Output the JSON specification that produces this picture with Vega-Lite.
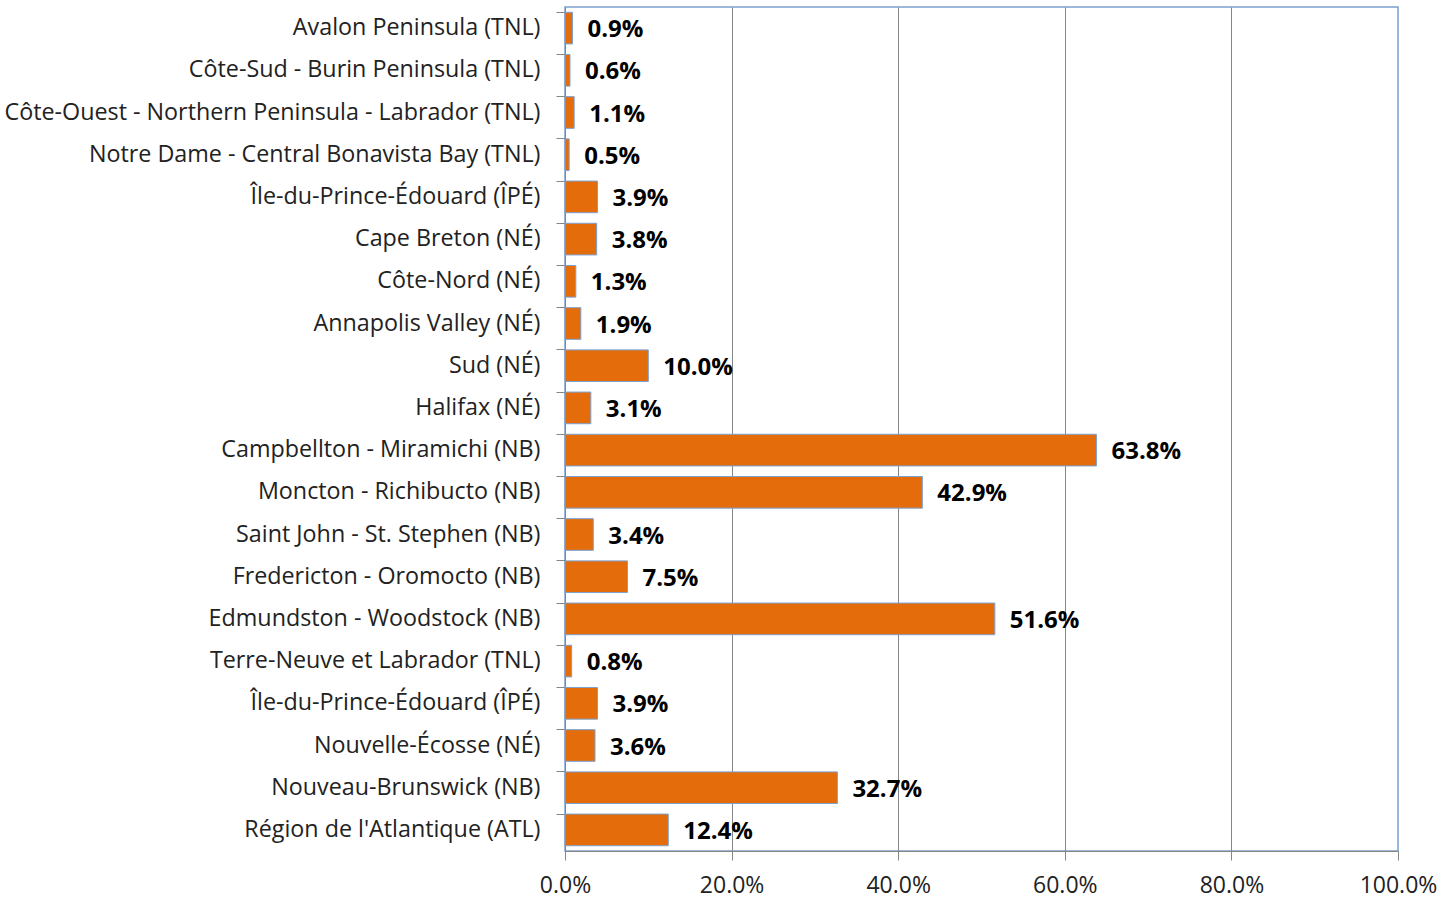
{
  "$schema": "https://vega.github.io/schema/vega-lite/v6.json",
  "width": 833,
  "height": 844,
  "autosize": {"type": "none"},
  "padding": {"left": 565, "top": 7, "right": 42, "bottom": 47},
  "background": "white",
  "config": {
    "view": {"stroke": "#7BA1D0", "strokeWidth": 1.5},
    "font": "Open Sans"
  },
  "data": {
    "values": [
      {"region": "Avalon Peninsula (TNL)", "value": 0.009},
      {"region": "Côte-Sud - Burin Peninsula (TNL)", "value": 0.006},
      {"region": "Côte-Ouest - Northern Peninsula - Labrador (TNL)", "value": 0.011},
      {"region": "Notre Dame - Central Bonavista Bay (TNL)", "value": 0.005},
      {"region": "Île-du-Prince-Édouard (ÎPÉ)", "value": 0.039},
      {"region": "Cape Breton (NÉ)", "value": 0.038},
      {"region": "Côte-Nord (NÉ)", "value": 0.013},
      {"region": "Annapolis Valley (NÉ)", "value": 0.019},
      {"region": "Sud (NÉ)", "value": 0.100},
      {"region": "Halifax (NÉ)", "value": 0.031},
      {"region": "Campbellton - Miramichi (NB)", "value": 0.638},
      {"region": "Moncton - Richibucto (NB)", "value": 0.429},
      {"region": "Saint John - St. Stephen (NB)", "value": 0.034},
      {"region": "Fredericton - Oromocto (NB)", "value": 0.075},
      {"region": "Edmundston - Woodstock (NB)", "value": 0.516},
      {"region": "Terre-Neuve et Labrador (TNL)", "value": 0.008},
      {"region": "Île-du-Prince-Édouard (ÎPÉ)#2", "value": 0.039},
      {"region": "Nouvelle-Écosse (NÉ)", "value": 0.036},
      {"region": "Nouveau-Brunswick (NB)", "value": 0.327},
      {"region": "Région de l'Atlantique (ATL)", "value": 0.124}
    ]
  },
  "encoding": {
    "y": {
      "field": "region",
      "type": "nominal",
      "sort": null,
      "title": null,
      "scale": {"paddingInner": 0.25, "paddingOuter": 0.125},
      "axis": {
        "labelExpr": "replace(datum.label, '#2', '')",
        "labelFont": "Open Sans",
        "labelFontSize": 23.3,
        "labelColor": "#222222",
        "labelPadding": 16,
        "labelLimit": 600,
        "tickSize": 9,
        "tickColor": "#868686",
        "domainColor": "#868686",
        "bandPosition": 0,
        "grid": false
      }
    },
    "x": {
      "field": "value",
      "type": "quantitative",
      "title": null,
      "scale": {"domain": [0, 1], "nice": false},
      "axis": {
        "format": ".1%",
        "values": [0, 0.2, 0.4, 0.6, 0.8, 1],
        "labelFont": "Open Sans",
        "labelFontSize": 23,
        "labelColor": "#222222",
        "labelPadding": 14,
        "labelFlush": false,
        "tickSize": 9,
        "tickColor": "#868686",
        "domainColor": "#868686",
        "grid": true,
        "gridColor": {"condition": {"test": "datum.value === 1", "value": "transparent"}, "value": "#868686"}
      }
    }
  },
  "layer": [
    {
      "mark": {"type": "bar", "color": "#E46C0A", "stroke": "#7BA1D0", "strokeWidth": 1}
    },
    {
      "mark": {"type": "text", "align": "left", "baseline": "middle", "dx": 15, "dy": 2, "fontWeight": "bold", "fontSize": 24, "font": "Open Sans", "color": "#000000"},
      "encoding": {
        "text": {"field": "value", "type": "quantitative", "format": ".1%"}
      }
    }
  ]
}
